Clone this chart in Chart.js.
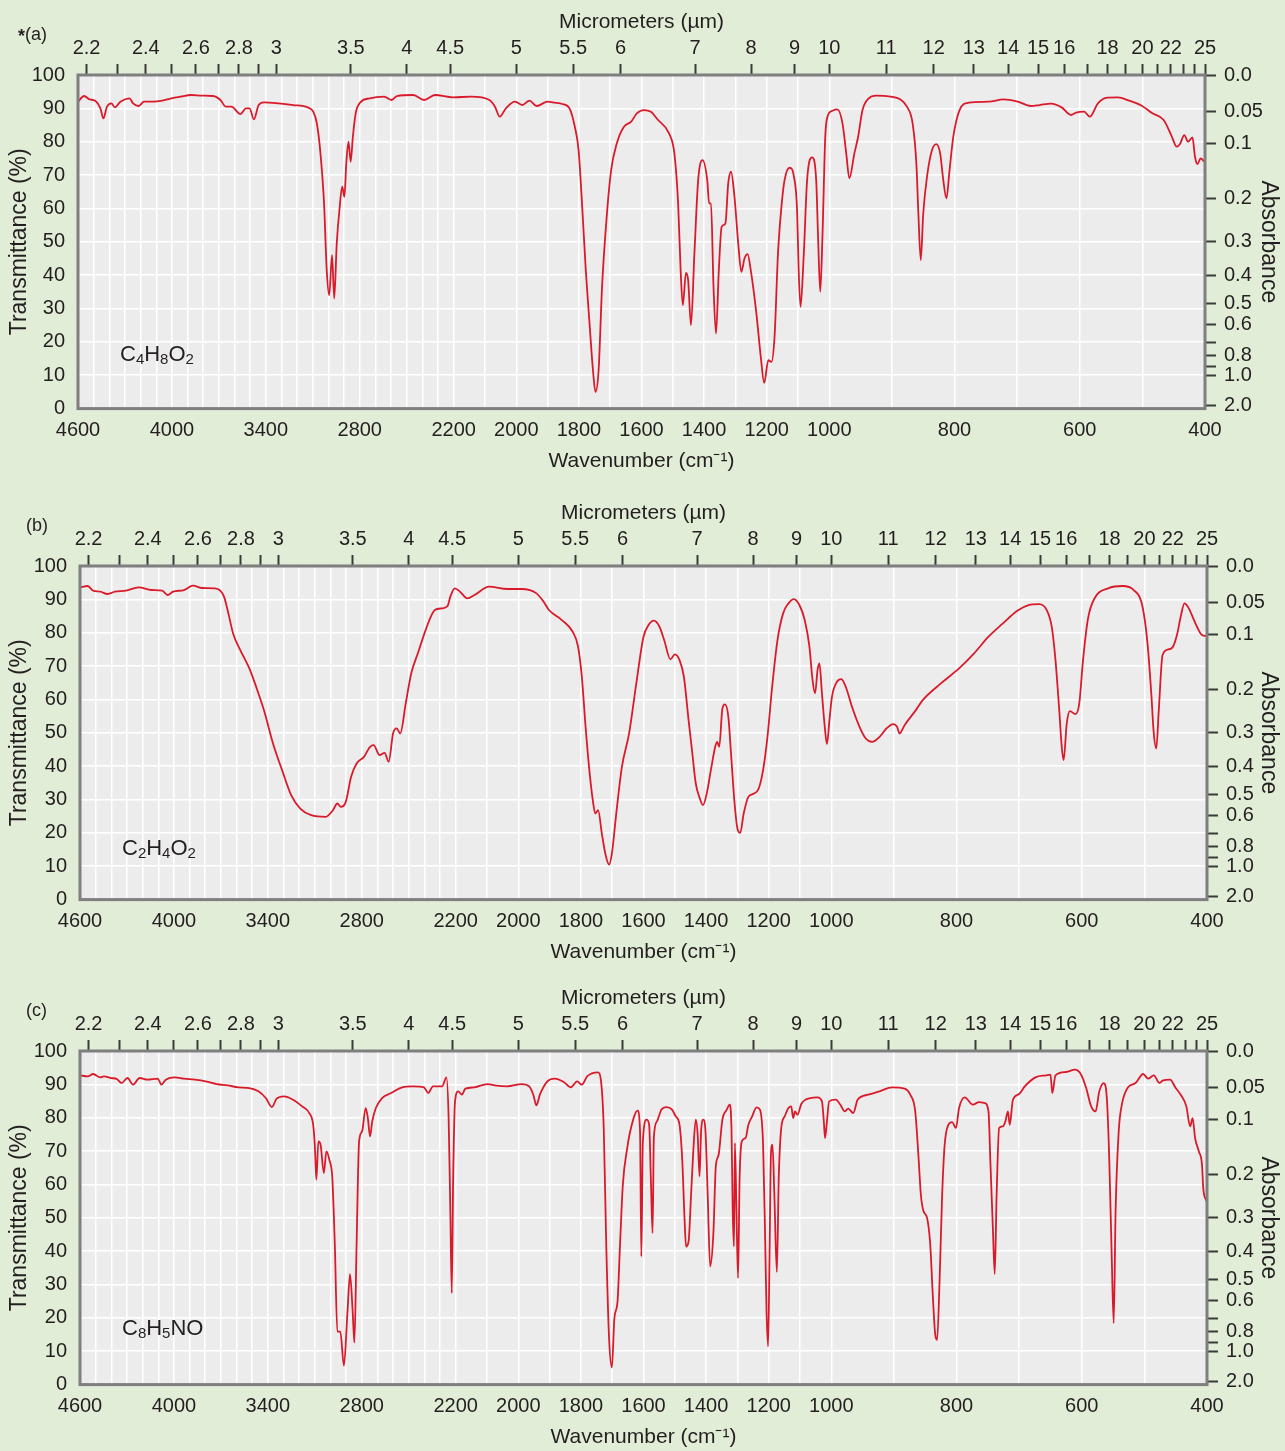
<!DOCTYPE html>
<html>
<head>
<meta charset="utf-8">
<script src="https://cdn.jsdelivr.net/npm/chart.js@4.4.1/dist/chart.umd.min.js"></script>
<style>
  html, body { margin: 0; padding: 0; background: #e1edd6; overflow: hidden; }
  #wrap { position: relative; width: 1285px; height: 1451px; }
  canvas { position: absolute; left: 0; }
</style>
</head>
<body>
<div id="wrap">
  <canvas id="panelA" width="1285" height="475" style="top:0px"></canvas>
  <canvas id="panelB" width="1285" height="475" style="top:491px"></canvas>
  <canvas id="panelC" width="1285" height="475" style="top:976px"></canvas>
</div>
<script>
/* ---------------- spectra (wavenumber cm-1 / transmittance %) ---------------- */
const waveA = [4600,4561,4526,4491,4457,4438,4415,4387,4364,4329,4271,4248,4213,4178,4120,4062,4004,3946,3876,3807,
  3737,3690,3655,3620,3562,3527,3504,3476,3446,3411,3318,3225,3132,3097,3074,3051,3028,3011,2995,2977,
  2963,2947,2930,2912,2898,2886,2872,2858,2844,2826,2796,2737,2644,2598,2563,2458,2389,2319,2204,2144,
  2086,2068,2053,2033,2004,1981,1958,1935,1900,1877,1853,1830,1813,1801,1790,1778,1766,1755,1747,1737,
  1726,1712,1697,1679,1656,1633,1615,1592,
  1570,1547,1512,1495,1483,1475,1468,1458,1451,1442,1431,1419,1405,1390,1384,1378,1370,1362,1353,1344,
  1332,1323,1314,1303,1291,1281,1271,1261,1251,1233,1219,1208,1195,1185,1175,1164,1152,1143,1127,1113,
  1103,1098,1092,1082,1071,1055,1042,1036,1029,1022,1013,1006,995,987,979,973,968,960,954,947,
  937,925,902,887,876,867,861,858,854,850,844,836,829,823,818,813,808,802,792,777,
  745,722,699,678,664,646,629,614,606,593,584,571,556,539,521,501,484,466,454,445,
  440,433,427,420,416,412,407,401];
const transA = [92,93.7,92.7,92.3,90,87,90.5,91.5,90.3,92,93,91.5,90.7,92,92,92.3,93,93.5,94,93.8,
  93.7,92.5,90.5,90.5,88.3,90,90,86.7,91,91.8,91.5,91,90.3,89,85.5,76.5,61.5,41.5,34,46,
  33,49.5,59.5,66.5,63.5,73.5,80,74,81.5,88.5,91.8,93,93.5,92.5,93.7,94,92.5,94,93.3,93.5,
  92.5,90.5,87.5,90,92,91,92.3,90.7,92,91.7,91.3,90,84.5,77.5,61.5,41.5,25.5,11.5,5,11.5,
  36.5,56.5,71.5,79.5,84.5,86,88.5,89.5,
  89,86.5,82.5,76.5,61.5,41.5,31,40.7,38.5,25,46.5,68.5,74.5,68.5,61.5,61.5,36.5,22.5,41.5,54.5,
  55.5,67.5,71,63.5,49.5,41,45,46.3,41.5,28.5,15.5,7.7,14.5,14,21.5,46.5,61.5,68.5,72.2,69.5,
  59.5,41.5,30.5,45.5,68.5,75.3,68.5,51.5,35,51.5,81.5,87.5,89.3,89.7,85.5,76.5,69,76.5,81.5,89.5,
  93,93.8,93.5,92.7,90.5,85.5,73.5,59.5,44.5,58.5,69.5,77.5,79.3,76.5,68.5,63,71.5,81.5,89.5,91.7,
  92,92.7,92,90.7,91,91.4,90.3,88,88.7,89,87.5,91.5,93.2,93.3,92.3,90.8,88.5,86.5,82,78.5,
  79.3,82,80,81.3,75.5,73.3,75,74];

const waveB = [4600,4551,4516,4470,4424,4377,4307,4226,4145,4075,4040,4005,3936,3878,3820,3738,3704,3680,3657,3622,
  3576,3518,3471,3425,3367,3309,3251,3193,3123,3030,2984,2956,2933,2902,2868,2833,2786,2747,2724,2686,
  2654,2628,2600,2577,2554,2519,2484,2438,2392,2333,2287,2252,2234,2206,2186,2163,2140,2093,2035,1989,
  1942,1919,1902,1861,1826,1809,1797,1785,1774,1762,1754,1745,1733,1722,1710,1701,1687,1669,1646,1623,
  1600,1584,1567,1549,1534,1514,1500,1485,1471,1456,1444,1433,1420,1410,1398,1383,1371,1365,1358,1348,
  1340,1329,1319,1309,1300,1291,1280,1265,1247,1232,1218,1204,1189,1172,1154,1137,1120,1102,1085,1070,
  1060,1052,1044,1038,1030,1021,1014,1006,999,991,984,977,967,955,945,935,923,912,901,895,
  891,883,865,854,825,796,772,749,726,703,685,668,656,648,642,636,632,629,624,619,
  610,604,598,590,578,558,535,517,503,495,489,485,481,477,471,462,455,448,442,436,
  429,422,416,408,401];
const transB = [93.6,94,92.6,92.3,91.6,92.3,92.6,93.6,92.8,92.6,91.3,92.3,92.8,94.1,93.4,93.3,92.6,90.8,86.8,79.8,
  74.8,69.3,63.3,56.8,46.8,38.8,31.3,27.3,25.3,24.8,26.8,28.8,27.8,29.3,36.8,40.8,42.8,45.8,46.3,43.3,
  44,41.3,49.8,51.3,49.8,58.8,67.8,74.3,80.8,86.8,87.3,88,90.8,93.3,92.3,90.3,91.3,93.8,93.1,93.1,
  91.8,89.3,86.8,83.8,80.3,75.8,66.8,51.8,39.8,29.8,25.8,26.8,19.8,13.8,10.5,13.8,25.8,39.8,49.8,64.8,
  78.8,82.3,83.6,81.8,77.8,72,73.5,71.8,66.8,53.8,43.8,34.8,30.3,28.3,31.8,39.8,45.8,47.3,45.8,57.3,
  58.5,54.8,41.8,28.8,21.3,20,25.8,30.8,31.8,33.3,38.8,48.8,63.8,77.8,85.8,88.8,90.1,88.3,83.8,75.8,
  65.8,61.8,68.8,70.8,61.8,51.8,46.6,53.8,60.8,65.3,66.1,63.8,57.8,51.8,48.3,47.3,48.8,51.3,52.6,51.8,
  49.8,52.3,56.8,59.8,64.8,69.3,73.8,78.8,82.8,86.6,88.3,88.6,86.8,81.8,71.8,56.8,45.8,41.8,52.8,56.5,
  55.6,58.8,71.8,84.3,90.8,93.3,94,92.8,87.8,76.8,61.8,49.8,45.3,56.8,73.3,75,75.6,79.3,84.8,88.8,
  87.3,84.3,81.8,79.3,79];

const waveC = [4600,4551,4516,4470,4447,4400,4365,4335,4296,4261,4219,4168,4103,4080,4052,3994,3936,3866,3797,3727,
  3657,3588,3518,3460,3413,3374,3344,3297,3239,3181,3135,3111,3100,3090,3077,3063,3042,3026,3007,2988,
  2972,2956,2937,2914,2891,2875,2858,2847,2833,2817,2798,2775,2761,2747,2733,2710,2670,2612,2542,2473,
  2403,2375,2345,2287,2259,2245,2234,2225,2216,2204,2192,2180,2169,2140,2099,2070,2035,1989,1965,1952,
  1942,1931,1907,1884,1855,1832,1812,1797,1780,1745,1737,1727,1719,1710,1701,1693,1683,1675,1666,1652,
  1640,1619,1611,1607,1602,1590,1582,1576,1571,1567,1557,1543,1526,1509,1497,1485,1476,1469,1464,1456,
  1448,1441,1433,1427,1421,1416,1409,1402,1395,1387,1377,1369,1360,1348,1334,1325,1319,1315,1311,1308,
  1303,1298,1293,1286,1274,1265,1253,1239,1228,1218,1211,1207,1202,1197,1193,1188,1182,1174,1168,1160,
  1149,1137,1128,1122,1116,1108,1096,1067,1044,1030,1024,1020,1014,1007,993,984,979,973,965,958,
  941,923,903,883,874,866,861,857,853,847,842,838,834,831,827,823,819,813,807,801,
  796,787,774,764,755,749,746,742,739,736,732,726,722,718,715,710,700,691,674,657,
  650,647,642,625,611,601,593,585,578,572,565,560,556,552,549,546,541,536,526,514,
  502,494,485,476,471,459,450,442,433,427,423,419,413,408,406,401];
const transC = [92.7,92.4,93.1,92.1,92.4,91.9,91.6,90.4,91.9,89.9,91.9,91.4,91.7,89.9,91.4,92.1,91.7,91.4,90.9,90.1,
  89.7,89.1,88.9,87.9,85.9,83.2,85.7,86.4,85.4,83.4,81.4,78.1,71.9,61.4,72.9,71.9,63.4,69.9,67.4,61.9,
  41.9,15.9,15.9,5.7,21.9,33.1,21.9,12.6,41.9,72.9,75.9,82.9,79.9,74.4,78.9,82.9,85.9,87.4,89.1,89.4,
  89.1,87.4,89.4,89.4,92.1,79.9,51.9,27.4,61.9,84.9,87.9,86.9,88.7,89.1,90.1,89.6,89.4,90.1,89.4,86.9,
  83.7,86.9,90.9,91.7,90.7,89.1,90.9,89.9,92.4,93.6,91.9,76.9,41.9,13.9,5.1,19.9,24.9,41.9,59.9,70.9,
  76.9,82.1,75.9,38.4,72.9,79.4,77.9,59.9,45.4,73.9,78.9,82.4,83.2,82.4,80.4,77.9,66.9,49.9,41.4,42.9,
  56.9,69.9,79.4,74.9,62.4,75.9,79.4,75.9,56.9,35.4,44.9,65.4,68.9,79.4,82.4,83.9,76.9,51.9,41.4,72.4,
  51.9,31.9,61.9,72.9,73.9,77.9,80.4,83.1,82.4,71.9,41.9,21.9,11.4,41.9,68.9,71.9,56.9,33.7,61.9,76.9,
  80.4,82.9,83.4,79.9,81.9,80.9,84.1,85.9,86.1,84.9,78.9,73.9,78.9,84.9,85.4,83.4,81.9,82.7,81.4,85.4,
  86.9,87.9,89.1,88.7,86.9,81.9,68.9,56.9,52.1,49.9,41.9,26.9,14.9,13.4,31.9,56.9,71.9,77.9,78.7,76.9,
  82.9,86.1,83.9,84.7,84.4,81.9,66.9,46.9,33.1,56.9,76.9,77.4,78.9,81.9,77.9,85.4,87.1,89.4,92.1,92.7,
  92.9,87.4,92.7,93.7,94.4,92.9,88.9,83.4,81.9,87.9,90.4,85.9,66.9,36.9,18.4,51.9,75.9,83.9,89.1,90.4,
  93.1,91.7,92.7,90.4,91.1,91.4,88.9,86.9,83.4,77.4,79.9,73.9,69.9,65.9,58.9,55];

/* ---------------- axes ---------------- */
const bottomLabels = [4600,4000,3400,2800,2200,2000,1800,1600,1400,1200,1000,800,600,400];
const micronTicks = [2.2,2.3,2.4,2.5,2.6,2.7,2.8,2.9,3,3.5,4,4.5,5,5.5,6,7,8,9,10,11,12,13,14,15,16,17,18,19,20,21,22,23,24,25];
const micronLabels = ['2.2','','2.4','','2.6','','2.8','','3','3.5','4','4.5','5','5.5','6','7','8','9','10',
  '11','12','13','14','15','16','','18','','20','','22','','','25'];
const absTicks = [0,0.05,0.1,0.2,0.3,0.4,0.5,0.6,0.7,0.8,0.9,1.0,2.0];
const absLabels = ['0.0','0.05','0.1','0.2','0.3','0.4','0.5','0.6','','0.8','','1.0','2.0'];
const formulas = ['C4H8O2','C2H4O2','C8H5NO'];
const panelTags = ['(a)','(b)','(c)'];

const FONT = "'Liberation Sans', Arial, sans-serif";
const INK = '#231f20';
const RED = '#d91a2a';
const PLOT_BG = '#ececec';
const FRAME = '#7f7f7f';
const TICK = '#3a3a3a';
const PLOT_H = 333.6, TOP_H = 75;

// the wavenumber axis changes scale at 2200 and 1000 cm-1: three equal-width pieces
const BREAKS = [4600, 2200, 1000, 400];
function waveFraction(w){
  for(let i=0;i<3;i++){
    const hi = BREAKS[i], lo = BREAKS[i+1];
    if(w >= lo || i === 2) return (i + (hi - w)/(hi - lo))/3;
  }
}
function fractionWave(f){
  const s = Math.min(2, Math.max(0, Math.floor(f*3)));
  return BREAKS[s] - (f*3 - s)*(BREAKS[s] - BREAKS[s+1]);
}
class PiecewiseScale extends Chart.LinearScale {
  getPixelForValue(v){ return v == null ? NaN : this.getPixelForDecimal(waveFraction(v)); }
  getValueForPixel(p){ return fractionWave(this.getDecimalForPixel(p)); }
}
PiecewiseScale.id = 'piecewise';
PiecewiseScale.defaults = Chart.LinearScale.defaults;
Chart.register(PiecewiseScale);

const gridWaves = [];
for(let w=4600; w>=400; w-=100) gridWaves.push(w);

function drawFormula(ctx, text, x, y){
  let cx = x;
  for(const ch of text){
    const sub = /\d/.test(ch);
    ctx.font = (sub ? 15 : 22) + 'px ' + FONT;
    ctx.fillText(ch, cx, sub ? y + 5 : y);
    cx += ctx.measureText(ch).width;
  }
}

function decor(i, fy, tagX){
  return {
    id: 'decor',
    beforeDraw(chart){
      const {ctx, chartArea:a} = chart;
      ctx.save();
      ctx.fillStyle = PLOT_BG;
      ctx.fillRect(a.left, a.top, a.right - a.left, a.bottom - a.top);
      ctx.restore();
    },
    afterDraw(chart){
      const {ctx, chartArea:a} = chart;
      ctx.save();
      ctx.strokeStyle = FRAME; ctx.lineWidth = 3;
      ctx.strokeRect(a.left, a.top, a.right - a.left, a.bottom - a.top);
      ctx.fillStyle = INK; ctx.textBaseline = 'middle'; ctx.textAlign = 'left';
      drawFormula(ctx, formulas[i], a.left + 42, a.bottom - fy);
      let x = tagX;
      if(i === 0){
        ctx.font = 'bold 18px ' + FONT;
        ctx.fillText('*', x, a.top - 38);
        x += ctx.measureText('*').width;
      }
      ctx.font = '18px ' + FONT;
      ctx.fillText(panelTags[i], x, a.top - 40);
      ctx.restore();
    }
  };
}

function makePanel(id, i, wave, trans, plotLeft, plotRight, fy, tagX){
  const canvas = document.getElementById(id);
  const tickFont = {family: FONT, size: 20};
  const titleFont = {family: FONT, size: 21};
  const sideTitleFont = {family: FONT, size: 23};
  new Chart(canvas, {
    type: 'line',
    data: {
      datasets: [{
        data: wave.map((w, k) => ({x: w, y: trans[k]})),
        borderColor: RED, borderWidth: 1.8, pointRadius: 0,
        cubicInterpolationMode: 'monotone', fill: false
      }]
    },
    options: {
      responsive: false, animation: false, events: [],
      layout: {padding: 0},
      plugins: {legend: {display: false}, tooltip: {enabled: false}},
      scales: {
        x: {
          type: 'piecewise', position: 'bottom', min: 400, max: 4600,
          afterBuildTicks: s => { s.ticks = gridWaves.map(v => ({value: v})); },
          afterFit: s => { s.height = canvas.height - TOP_H - PLOT_H; },
          ticks: {autoSkip: false, maxRotation: 0, minRotation: 0, padding: 10, color: INK, font: tickFont,
                  callback: v => bottomLabels.includes(v) ? String(v) : ''},
          grid: {color: '#ffffff', lineWidth: 1.5, drawTicks: false},
          border: {display: false},
          title: {display: true, text: 'Wavenumber (cm\u207B\u00B9)', color: INK, font: titleFont, padding: {top: 0, bottom: 0.8}}
        },
        x2: {
          type: 'piecewise', position: 'top', min: 400, max: 4600,
          afterBuildTicks: s => { s.ticks = micronTicks.map(m => ({value: 10000/m})); },
          afterFit: s => { s.height = TOP_H; },
          ticks: {autoSkip: false, maxRotation: 0, minRotation: 0, padding: 4, color: INK, font: tickFont,
                  callback: (v, k) => micronLabels[k]},
          grid: {drawOnChartArea: false, drawTicks: true, tickLength: 11, tickColor: TICK, tickWidth: 2},
          border: {display: false},
          title: {display: true, text: 'Micrometers (\u00B5m)', color: INK, font: titleFont, padding: {top: 9.4, bottom: 0}}
        },
        y: {
          position: 'left', min: 0, max: 100,
          afterFit: s => { s.width = plotLeft; },
          ticks: {stepSize: 10, padding: 13, color: INK, font: tickFont, autoSkip: false},
          grid: {color: '#ffffff', lineWidth: 1.5, drawTicks: false},
          border: {display: false},
          title: {display: true, text: 'Transmittance (%)', color: INK, font: sideTitleFont, padding: {top: 6.2, bottom: 0}}
        },
        y2: {
          position: 'right', min: 0, max: 100,
          afterBuildTicks: s => { s.ticks = absTicks.map(A => ({value: 100*Math.pow(10, -A)})); },
          afterFit: s => { s.width = 1285 - plotRight; },
          ticks: {padding: 8, color: INK, font: tickFont, autoSkip: false, callback: (v, k) => absLabels[k]},
          grid: {drawOnChartArea: false, drawTicks: true, tickLength: 11, tickColor: TICK, tickWidth: 2},
          border: {display: false},
          title: {display: true, text: 'Absorbance', color: INK, font: sideTitleFont, padding: {top: 3.2, bottom: 0}}
        }
      }
    },
    plugins: [decor(i, fy, tagX)]
  });
}

makePanel('panelA', 0, waveA, transA, 78, 1205, 53.3, 18);
makePanel('panelB', 1, waveB, transB, 80, 1207, 50.4, 26);
makePanel('panelC', 2, waveC, transC, 80, 1207, 55.7, 26);
</script>
</body>
</html>
